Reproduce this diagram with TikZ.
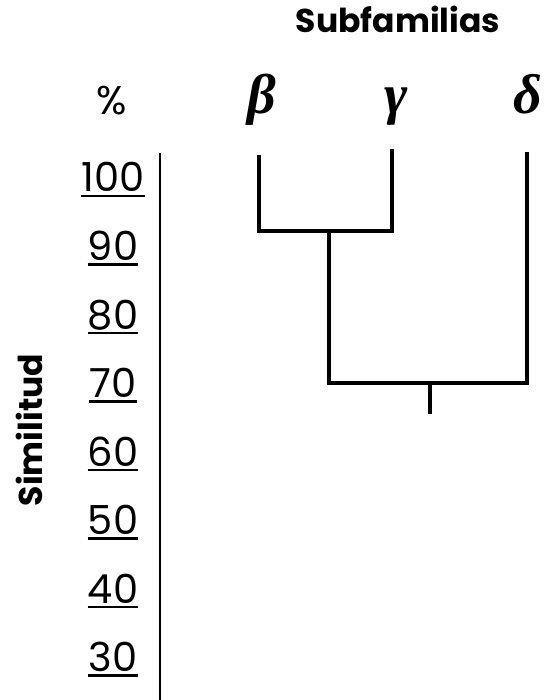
\documentclass[tikz,border=0pt]{standalone}
\usepackage{fontspec}
\setmainfont{Poppins}
\newfontfamily\greekfont{Liberation Serif}
\begin{document}
\begin{tikzpicture}[x=1pt,y=-1pt,
  tree/.style={line width=3.2pt},
  axisline/.style={line width=2.8pt},
  ulinestyle/.style={line width=2.6pt},
  ticklbl/.style={font=\fontsize{40}{40}\selectfont, anchor=base, inner sep=0pt},
  taxon/.style={font=\greekfont\bfseries\itshape\fontsize{56}{56}\selectfont, anchor=base, inner sep=0pt},
  heading/.style={font=\bfseries\fontsize{33}{33}\selectfont, anchor=base, inner sep=0pt}]
\useasboundingbox (0,0) rectangle (545,700);

% titles
\node[heading] (title) at (398,33) {Subfamilias};
\node[heading, rotate=90, anchor=center] (ylab) at (29,430) {Similitud};
\node[ticklbl] (pct) at (112,115) {\%};

% taxa
\node[taxon] (beta) at (262,114) {β};
\node[taxon] (gamma) at (396,114) {γ};
\node[taxon] (delta) at (528,114) {δ};

% similarity scale
\coordinate (axTop) at (160,153);
\coordinate (axBot) at (160,700);
\draw[axisline] (axTop) -- (axBot);
\foreach \v/\u in {100/196, 90/264.5, 80/333, 70/401.5, 60/470, 50/538.5, 40/607, 30/675.5}{
  \node[ticklbl] (t\v) at (113,\u-4) {\v};
  \draw[ulinestyle] ([yshift=-4pt]t\v.base west) -- ([yshift=-4pt]t\v.base east);
}

% dendrogram
\coordinate (bTop) at (259,155);
\coordinate (gTop) at (392,149);
\coordinate (dTop) at (527,152);
\coordinate (bBot) at (259,231);
\coordinate (gBot) at (392,231);
\coordinate (bgMid) at (329,231);
\coordinate (bgBot) at (329,383);
\coordinate (dBot) at (527,383);
\coordinate (root) at (430,383);
\coordinate (rootEnd) at (430,414);
\draw[tree] (bTop) -- (bBot) -- (gBot) -- (gTop);
\draw[tree] (bgMid) -- (bgBot) -- (dBot) -- (dTop);
\draw[tree] (root) -- (rootEnd);
\end{tikzpicture}
\end{document}
